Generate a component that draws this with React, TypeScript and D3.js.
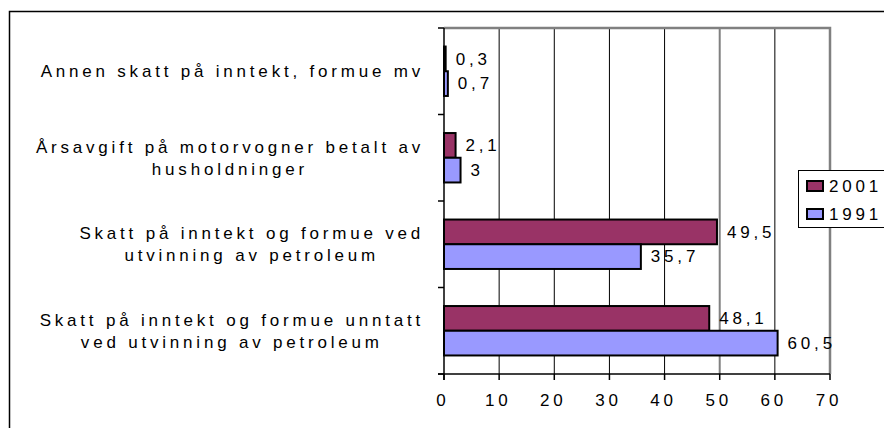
import React, { useEffect, useRef } from "react";
import * as d3 from "d3";

// category labels, already split the way the picture wraps them
const categoryLines: string[][] = [
  ["Annen skatt på inntekt, formue mv"],
  ["Årsavgift på motorvogner betalt av", "husholdninger"],
  ["Skatt på inntekt og formue ved", "utvinning av petroleum"],
  ["Skatt på inntekt og formue unntatt", "ved utvinning av petroleum"],
];
const seriesNames = ["2001", "1991"];
const values2001 = [0.3, 2.1, 49.5, 48.1];
const values1991 = [0.7, 3, 35.7, 60.5];
const xTicks = [0, 10, 20, 30, 40, 50, 60, 70];

const seriesColors: Record<string, string> = { "2001": "#993366", "1991": "#9999FF" };

const W = 884;
const H = 428;
const FONT = "Arial, 'Liberation Sans', sans-serif";
const FS = 17;
const LS = 3.8;

const App: React.FC = () => {
  const svgRef = useRef<SVGSVGElement>(null);

  useEffect(() => {
    if (!svgRef.current) return;
    const svg = d3.select(svgRef.current);
    svg.selectAll("*").remove();

    const plot = { left: 444, right: 830, top: 28, bottom: 374 };
    const catKeys = categoryLines.map((_, i) => String(i));

    const x = d3.scaleLinear().domain([0, 70]).range([plot.left, plot.right]);
    const y = d3.scaleBand().domain(catKeys).range([plot.top, plot.bottom]).padding(0);
    const ySub = d3
      .scaleBand()
      .domain(seriesNames)
      .range([0, y.bandwidth()])
      .paddingInner(0)
      .paddingOuter(0.75);

    const seriesValues: Record<string, number[]> = { "2001": values2001, "1991": values1991 };

    // outer chart frame (runs off the right and bottom)
    svg
      .append("path")
      .attr("d", `M9.5,${H} V11.5 H${W}`)
      .attr("fill", "none")
      .attr("stroke", "#000")
      .attr("stroke-width", 1.5);

    // gridlines
    svg
      .append("g")
      .selectAll("line")
      .data(xTicks.filter((t) => t > 0 && t < 70))
      .join("line")
      .attr("x1", (d) => x(d))
      .attr("x2", (d) => x(d))
      .attr("y1", plot.top)
      .attr("y2", plot.bottom)
      .attr("stroke", (d) => (d === 50 ? "#808080" : "#000"))
      .attr("stroke-width", (d) => (d === 50 ? 2 : 1));

    // plot area border, top and right
    svg
      .append("path")
      .attr("d", `M${plot.left},${plot.top} H${plot.right} V${plot.bottom}`)
      .attr("fill", "none")
      .attr("stroke", "#808080")
      .attr("stroke-width", 2.5);

    // bars
    const bars = svg.append("g");
    catKeys.forEach((c, i) => {
      seriesNames.forEach((s) => {
        const v = seriesValues[s][i];
        const by = (y(c) as number) + (ySub(s) as number);
        bars
          .append("rect")
          .attr("x", x(0))
          .attr("y", by)
          .attr("width", x(v) - x(0))
          .attr("height", ySub.bandwidth())
          .attr("fill", seriesColors[s])
          .attr("stroke", "#000")
          .attr("stroke-width", 2);
        bars
          .append("text")
          .attr("x", x(v) + 10)
          .attr("y", by + ySub.bandwidth() / 2)
          .attr("dy", "0.34em")
          .attr("font-family", FONT)
          .attr("font-size", FS)
          .attr("letter-spacing", LS)
          .attr("fill", "#000")
          .text(String(v).replace(".", ","));
      });
    });

    // axes
    const axes = svg.append("g").attr("stroke", "#000").attr("stroke-width", 1.5);
    axes.append("line").attr("x1", plot.left).attr("x2", plot.left).attr("y1", plot.top).attr("y2", plot.bottom + 6);
    axes.append("line").attr("x1", plot.left - 6).attr("x2", plot.right).attr("y1", plot.bottom).attr("y2", plot.bottom);
    axes
      .selectAll(".ytick")
      .data([...catKeys.map((c) => y(c) as number), plot.bottom])
      .join("line")
      .attr("x1", plot.left - 6)
      .attr("x2", plot.left)
      .attr("y1", (d) => d)
      .attr("y2", (d) => d);
    axes
      .selectAll(".xtick")
      .data(xTicks)
      .join("line")
      .attr("x1", (d) => x(d))
      .attr("x2", (d) => x(d))
      .attr("y1", plot.bottom)
      .attr("y2", plot.bottom + 6);

    svg
      .append("g")
      .selectAll("text")
      .data(xTicks)
      .join("text")
      .attr("x", (d) => x(d))
      .attr("y", 406)
      .attr("dx", -1)
      .attr("text-anchor", "middle")
      .attr("font-family", FONT)
      .attr("font-size", FS)
      .attr("letter-spacing", LS)
      .attr("fill", "#000")
      .text((d) => String(d));

    // category labels: box right-aligned at the axis, lines centred in it
    const labelRight = 424;
    const lineH = 22;
    categoryLines.forEach((lines, i) => {
      const cy = (y(String(i)) as number) + y.bandwidth() / 2;
      const t = svg
        .append("text")
        .attr("font-family", FONT)
        .attr("font-size", FS)
        .attr("letter-spacing", LS)
        .attr("text-anchor", "middle")
        .attr("fill", "#000");
      const spans = lines.map((ln, k) =>
        t
          .append("tspan")
          .attr("y", cy + (k - (lines.length - 1) / 2) * lineH)
          .attr("dy", "0.36em")
          .text(ln)
      );
      const widths = spans.map((sp) => (sp.node() as SVGTSpanElement).getComputedTextLength());
      const boxW = Math.max(...widths);
      spans.forEach((sp) => sp.attr("x", labelRight - boxW / 2));
    });

    // legend
    const lg = svg.append("g");
    lg.append("rect")
      .attr("x", 798.5)
      .attr("y", 170.5)
      .attr("width", 100)
      .attr("height", 57)
      .attr("fill", "#fff")
      .attr("stroke", "#000")
      .attr("stroke-width", 1);
    seriesNames.forEach((s, k) => {
      const ry = 181 + k * 28;
      lg.append("rect")
        .attr("x", 807)
        .attr("y", ry)
        .attr("width", 16)
        .attr("height", 10)
        .attr("fill", seriesColors[s])
        .attr("stroke", "#000")
        .attr("stroke-width", 2);
      lg.append("text")
        .attr("x", 829)
        .attr("y", ry + 5)
        .attr("dy", "0.36em")
        .attr("font-family", FONT)
        .attr("font-size", FS)
        .attr("letter-spacing", LS)
        .attr("fill", "#000")
        .text(s);
    });
  }, []);

  return (
    <div style={{ position: "absolute", left: 0, top: 0 }}>
      <svg ref={svgRef} width={W} height={H} style={{ display: "block", background: "#fff" }} />
    </div>
  );
};

export default App;
